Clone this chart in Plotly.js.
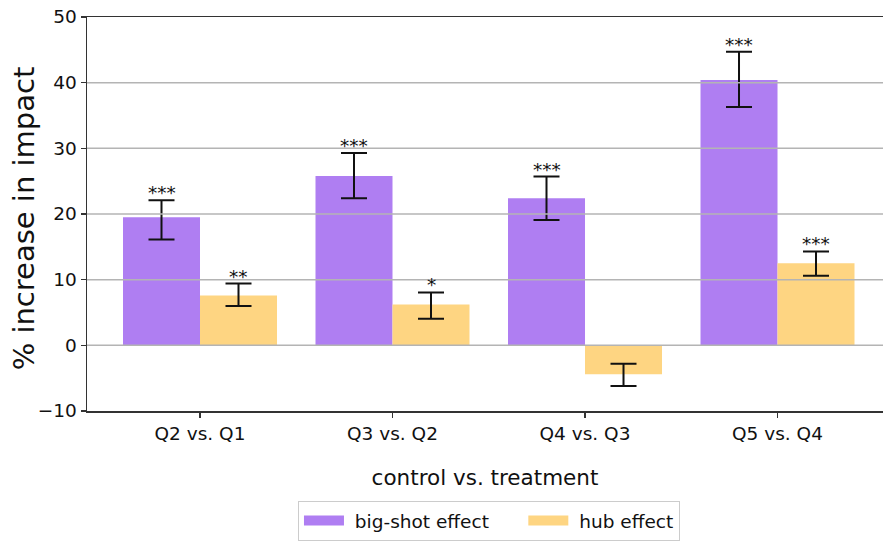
<!DOCTYPE html>
<html>
<head>
<meta charset="utf-8">
<script src="https://cdn.plot.ly/plotly-3.0.1.min.js"></script>
<style>html,body{margin:0;padding:0;background:#fff;}#chart{width:883px;height:541px;}</style>
</head>
<body>
<div id="chart"></div>
<script>
// ---- data ----
const categories = ["Q2 vs. Q1", "Q3 vs. Q2", "Q4 vs. Q3", "Q5 vs. Q4"];
const seriesNames = ["big-shot effect", "hub effect"];
const bigShotValues = [19.5, 25.8, 22.4, 40.4];
const bigShotUpper  = [22.1, 29.3, 25.7, 44.7];
const bigShotLower  = [16.1, 22.4, 19.1, 36.3];
const bigShotStars  = ["***", "***", "***", "***"];
const hubValues = [7.6, 6.2, -4.4, 12.5];
const hubUpper  = [9.4, 8.05, -2.8, 14.3];
const hubLower  = [6.0, 4.05, -6.2, 10.6];
const hubStars  = ["**", "*", "", "***"];
const yTickValues = [-10, 0, 10, 20, 30, 40, 50];
const gridValues = [0, 10, 20, 30, 40];

const purple = "#af7ef2";
const yellow = "#fed582";
const FONT = "DejaVu Sans, sans-serif";

function errObj(vals, up, lo) {
  return {
    type: "data", symmetric: false,
    array: up.map((u, i) => u - vals[i]),
    arrayminus: lo.map((l, i) => vals[i] - l),
    color: "#111", thickness: 2, width: 13
  };
}

const idx = categories.map((c, i) => i);
const LEAD = "\u00a0";
const PAD = "\u00a0\u00a0\u00a0\u00a0\u00a0";

const traces = [
  {type: "bar", name: seriesNames[0], x: idx, y: bigShotValues, showlegend: false, legendgroup: "a",
   marker: {color: purple}, error_y: errObj(bigShotValues, bigShotUpper, bigShotLower)},
  {type: "bar", name: seriesNames[1], x: idx, y: hubValues, showlegend: false, legendgroup: "b",
   marker: {color: yellow}, error_y: errObj(hubValues, hubUpper, hubLower)},
  // legend-only entries drawn as wide colour patches
  {type: "scatter", mode: "lines", name: LEAD + seriesNames[0] + PAD, x: [null], y: [null], legendgroup: "a",
   line: {color: purple, width: 16}, hoverinfo: "skip"},
  {type: "scatter", mode: "lines", name: LEAD + seriesNames[1], x: [null], y: [null], legendgroup: "b",
   line: {color: yellow, width: 16}, hoverinfo: "skip"}
];

const annotations = [];
const offset = 0.2; // half of one bar width in category units (group width 0.8, 2 bars)
idx.forEach(i => {
  if (bigShotStars[i]) annotations.push({x: i - offset, y: bigShotUpper[i], xref: "x", yref: "y",
    text: bigShotStars[i], showarrow: false, yanchor: "bottom", yshift: -5,
    font: {family: FONT, size: 18.5, color: "#111"}});
  if (hubStars[i]) annotations.push({x: i + offset, y: hubUpper[i], xref: "x", yref: "y",
    text: hubStars[i], showarrow: false, yanchor: "bottom", yshift: -5,
    font: {family: FONT, size: 18.5, color: "#111"}});
});
// y-axis title
annotations.push({xref: "paper", yref: "paper", x: -0.0791, y: 0.489, xanchor: "center", yanchor: "middle",
  text: "% increase in impact", textangle: -90, showarrow: false,
  font: {family: FONT, size: 29, color: "#111"}});

const shapes = gridValues.map(v => ({
  type: "line", xref: "paper", x0: 0, x1: 1, yref: "y", y0: v, y1: v,
  line: {color: "#b4b4b4", width: 1.5}, layer: "above"
}));

const layout = {
  width: 883, height: 541,
  margin: {l: 87, r: 0, t: 17, b: 129},
  paper_bgcolor: "#fff", plot_bgcolor: "#fff",
  font: {family: FONT, color: "#111", size: 18},
  barmode: "group", bargap: 0.2, bargroupgap: 0,
  showlegend: true,
  legend: {orientation: "h", x: 0.505, xanchor: "center", y: -0.228, yanchor: "top",
           bordercolor: "#cccccc", borderwidth: 1, font: {family: FONT, size: 18.5, color: "#111"},
           itemwidth: 40, traceorder: "normal"},
  xaxis: {
    range: [-0.587, 3.548], tickmode: "array", tickvals: idx, ticktext: categories,
    showgrid: false, zeroline: false,
    showline: true, linecolor: "#333", linewidth: 1.5, mirror: true,
    ticks: "outside", ticklen: 5, tickwidth: 1.5, tickcolor: "#333",
    tickfont: {family: FONT, size: 18.5, color: "#111"},
    title: {text: "control vs. treatment", font: {family: FONT, size: 21.5, color: "#111"}, standoff: 27},
    automargin: false
  },
  yaxis: {
    range: [-10, 50], tickmode: "array", tickvals: yTickValues,
    showgrid: false, zeroline: false,
    showline: true, linecolor: "#333", linewidth: 1.5,
    ticks: "outside", ticklen: 5, tickwidth: 1.5, tickcolor: "#333",
    tickfont: {family: FONT, size: 18.5, color: "#111"},
    automargin: false
  },
  shapes: shapes,
  annotations: annotations
};

Plotly.newPlot("chart", traces, layout, {displayModeBar: false, staticPlot: true});
</script>
</body>
</html>
